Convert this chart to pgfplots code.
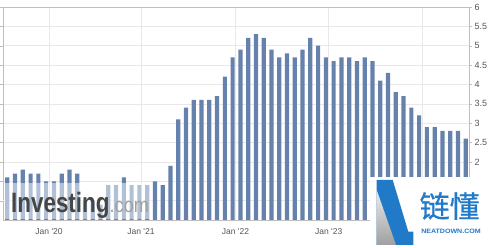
\documentclass[border=0pt]{standalone}
\usepackage{fontspec}
\setmainfont{Liberation Sans}
\newfontfamily\cjk[FakeBold=0.6]{Noto Sans CJK SC}
\usepackage{graphicx}
\usepackage{pgfplots}
\pgfplotsset{compat=1.18}
\usepackage{pgfplotstable}
\definecolor{barcol}{RGB}{101,129,172}
\definecolor{gridcol}{RGB}{232,232,232}
\definecolor{framecol}{RGB}{190,190,190}
\definecolor{ticklab}{RGB}{85,85,85}
\definecolor{logoblue}{RGB}{32,122,200}
\pgfplotstableread{
i v
0 1.6
1 1.7
2 1.8
3 1.7
4 1.7
5 1.5
6 1.5
7 1.7
8 1.8
9 1.7
10 1.0
11 1.0
12 0.9
13 1.4
14 1.4
15 1.6
16 1.4
17 1.4
18 1.4
19 1.5
20 1.4
21 1.9
22 3.1
23 3.4
24 3.6
25 3.6
26 3.6
27 3.7
28 4.2
29 4.7
30 4.9
31 5.2
32 5.3
33 5.2
34 4.9
35 4.7
36 4.8
37 4.7
38 4.9
39 5.2
40 5.0
41 4.7
42 4.6
43 4.7
44 4.7
45 4.6
46 4.7
47 4.6
48 4.1
49 4.3
50 3.8
51 3.7
52 3.4
53 3.2
54 2.9
55 2.9
56 2.8
57 2.8
58 2.8
59 2.6
}\datatable
\begin{document}
\begin{tikzpicture}[x=1pt,y=1pt]
\useasboundingbox (0,0) rectangle (490,248);
\begin{axis}[
  at={(3pt,28pt)}, anchor=south west,
  scale only axis, width=466pt, height=213pt,
  xmin=-0.553, xmax=59.42, ymin=0.5, ymax=6,
  axis line style={draw=framecol},
  ytick={1.5,2,...,6},
  extra y ticks={1},
  extra y tick labels={},
  yticklabel pos=right,
  ytick style={draw=framecol},
  tick align=outside,
  major tick length=3pt,
  yticklabel style={font=\fontsize{9}{10}\selectfont, text=ticklab, anchor=west, xshift=-1pt},
  xtick={5.37,17.2,29.37,41.37,53.37},
  xticklabels={Jan \textquotesingle20, Jan \textquotesingle21, Jan \textquotesingle22, Jan \textquotesingle23, {}},
  xtick style={draw=none},
  xticklabel style={font=\fontsize{8.5}{10}\selectfont, text=ticklab, yshift=-2pt},
  ymajorgrids, xmajorgrids,
  grid style={draw=gridcol, line width=0.6pt},
  /pgf/number format/assume math mode=true,
]
\addplot[ybar, bar width=4.2pt, fill=barcol, draw=none] table[x=i, y=v] {\datatable};
\end{axis}
% Investing.com watermark
\fill[white, opacity=0.5] (4,28.6) rectangle (151,65);
\node[anchor=base west, inner sep=0pt, text={rgb,255:red,70;green,70;blue,70}] at (11,35)
  {\scalebox{0.8}[1]{\bfseries\fontsize{28}{28}\selectfont Investing}};
\node[anchor=base west, inner sep=0pt, text={rgb,255:red,160;green,160;blue,160}] at (109.5,35)
  {\scalebox{0.86}[1]{\fontsize{21}{21}\selectfont .com}};
% neatdown logo
\fill[white] (370,0) rectangle (490,71);
\fill[logoblue] (376.7,68) -- (392.7,68) -- (408.3,16.3) -- (413.3,16.3) -- (413.3,3) -- (376.7,3) -- cycle;
\shade[top color=gray!15, bottom color=gray!75] (376.7,58) -- (376.7,3) -- (396,3) -- cycle;
\node[text=logoblue, inner sep=0pt] at (449.7,42) {\cjk\fontsize{30}{30}\selectfont 链懂};
\node[text=logoblue, inner sep=0pt] at (451,16.3) {\scalebox{1.12}[1]{\bfseries\fontsize{6.3}{7}\selectfont NEATDOWN.COM}};
\end{tikzpicture}
\end{document}
